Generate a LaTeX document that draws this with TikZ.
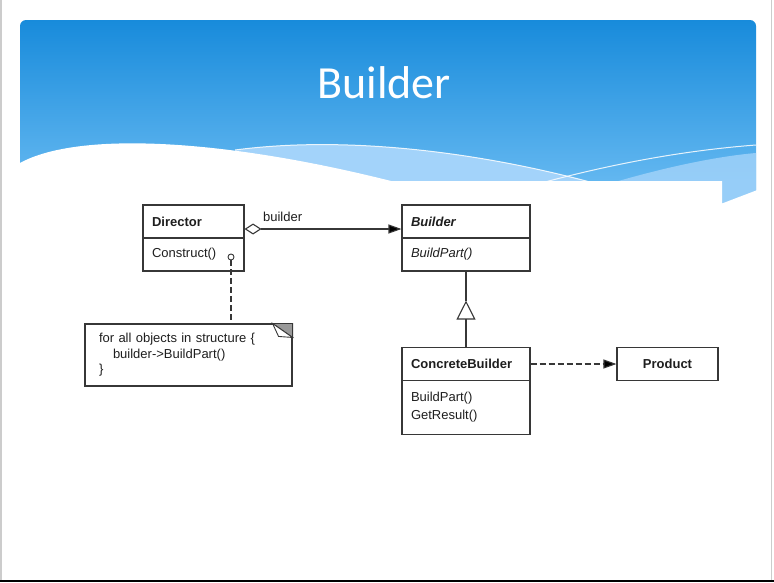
\documentclass[tikz,border=0pt]{standalone}
\usepackage{fontspec}
\setmainfont{Liberation Sans}
\newfontfamily\titlefont{Carlito}
\usepackage{tikz}
\usetikzlibrary{positioning, arrows.meta}

\definecolor{headtop}{RGB}{24,139,219}
\definecolor{headbot}{RGB}{112,191,244}
\definecolor{headband}{RGB}{163,211,250}
\definecolor{umlline}{RGB}{55,55,55}
\definecolor{umltext}{RGB}{30,30,30}

\begin{document}
\begin{tikzpicture}[x=1pt, y=-1pt, node distance=2cm, on grid,
    uml/.style={draw=umlline, line width=1.1pt},
    cls/.style={uml, text=umltext, minimum height=33pt, inner xsep=9pt, inner ysep=0pt,
        align=left, font=\fontsize{13}{18}\selectfont},
    narrow/.style={cls, text width=83pt},
    wide/.style={cls, text width=110pt},
    tip/.style={-{Triangle[length=13pt, width=9pt]}},
    dep/.style={dash pattern=on 6pt off 3pt}]
    \useasboundingbox (0,0) rectangle (774,582);

    % slide header
    \shade[top color=headtop, bottom color=headbot, rounded corners=6pt] (20,20) rectangle (756,210);
    \fill[headband] (235,150) .. controls (340,136) and (470,150) .. (590,182) -- (235,182) -- cycle;
    \fill[headband, opacity=0.8] (615,182) .. controls (670,166) and (720,156) .. (756,153) -- (756,210) -- (615,210) -- cycle;
    \draw[white, line width=1pt, opacity=0.85] (235,150) .. controls (340,136) and (470,150) .. (590,182);
    \draw[white, line width=1pt, opacity=0.85] (545,182) .. controls (620,162) and (690,150) .. (756,145);
    \fill[white] (20,163) .. controls (80,130) and (230,140) .. (395,182) -- (20,182) -- cycle;
    \fill[white] (15,181) -- (722,181) -- (722,203.5) -- (760,189) -- (760,215) -- (15,215) -- cycle;
    \fill[black!20] (0,0) rectangle (1.5,582);
    \fill[black!20] (770.5,0) rectangle (771.5,582);
    \fill[black] (0,579.5) rectangle (774,582);
    \node[text=white, font=\titlefont\fontsize{46}{50}\selectfont, anchor=base] (title) at (384,98) {Builder};

    % classes
    \node[narrow] (director) at (193.5,221.5) {\textbf{Director}};
    \node[narrow] (director_ops) [below=33pt of director] {Construct()};
    \node[wide] (builder) [right=272.5pt of director] {\textbf{\textit{Builder}}};
    \node[wide] (builder_ops) [below=33pt of builder] {\textit{BuildPart()}};
    \node[wide] (concrete) [below=142.5pt of builder] {\textbf{ConcreteBuilder}};
    \node[wide, minimum height=54pt] (concrete_ops) [below=43.5pt of concrete] {BuildPart()\\GetResult()};
    \node[cls, minimum width=101pt] (product) [right=201.5pt of concrete] {\textbf{Product}};
    \node[uml, text=umltext, minimum height=62pt, text width=179pt, inner xsep=14pt, align=left,
        font=\fontsize{13}{15.5}\selectfont] (note) [below left=100.5pt and 5pt of director_ops]
        {for all objects in structure \{\\\hspace*{14pt}builder->BuildPart()\\\}};
    \node[uml, circle, line width=0.9pt, fill=white, minimum size=6pt, inner sep=0pt] (hook)
        [below right=2.5pt and 37.5pt of director_ops] {};

    % folded corner of the note
    \filldraw[umlline, fill=black!40, line width=0.9pt] ([xshift=-20pt]note.north east) -- (note.north east) -- ([yshift=-14pt]note.north east) -- cycle;
    \filldraw[umlline, fill=white, line width=0.9pt] ([xshift=-20pt]note.north east) -- ([xshift=-14pt, yshift=-13pt]note.north east) -- ([yshift=-14pt]note.north east) -- cycle;

    \path[uml]
        ([yshift=-7.5pt]director.east) edge[{Diamond[open, length=17pt, width=11pt]}-{Triangle[length=13pt, width=9pt]}]
            node[pos=0, anchor=base west, xshift=18pt, yshift=8pt, inner sep=0pt, text=umltext,
                font=\fontsize{13}{15}\selectfont] {builder} ([yshift=-7.5pt]builder.west)
        (concrete) edge[tip, dep] (product)
        (hook) edge[dep] (hook |- note.north)
        (builder_ops.south) edge ([yshift=-29pt]builder_ops.south)
        (concrete.north) edge[-{Triangle[open, length=19pt, width=19pt]}] ([yshift=-29pt]builder_ops.south);
\end{tikzpicture}
\end{document}
